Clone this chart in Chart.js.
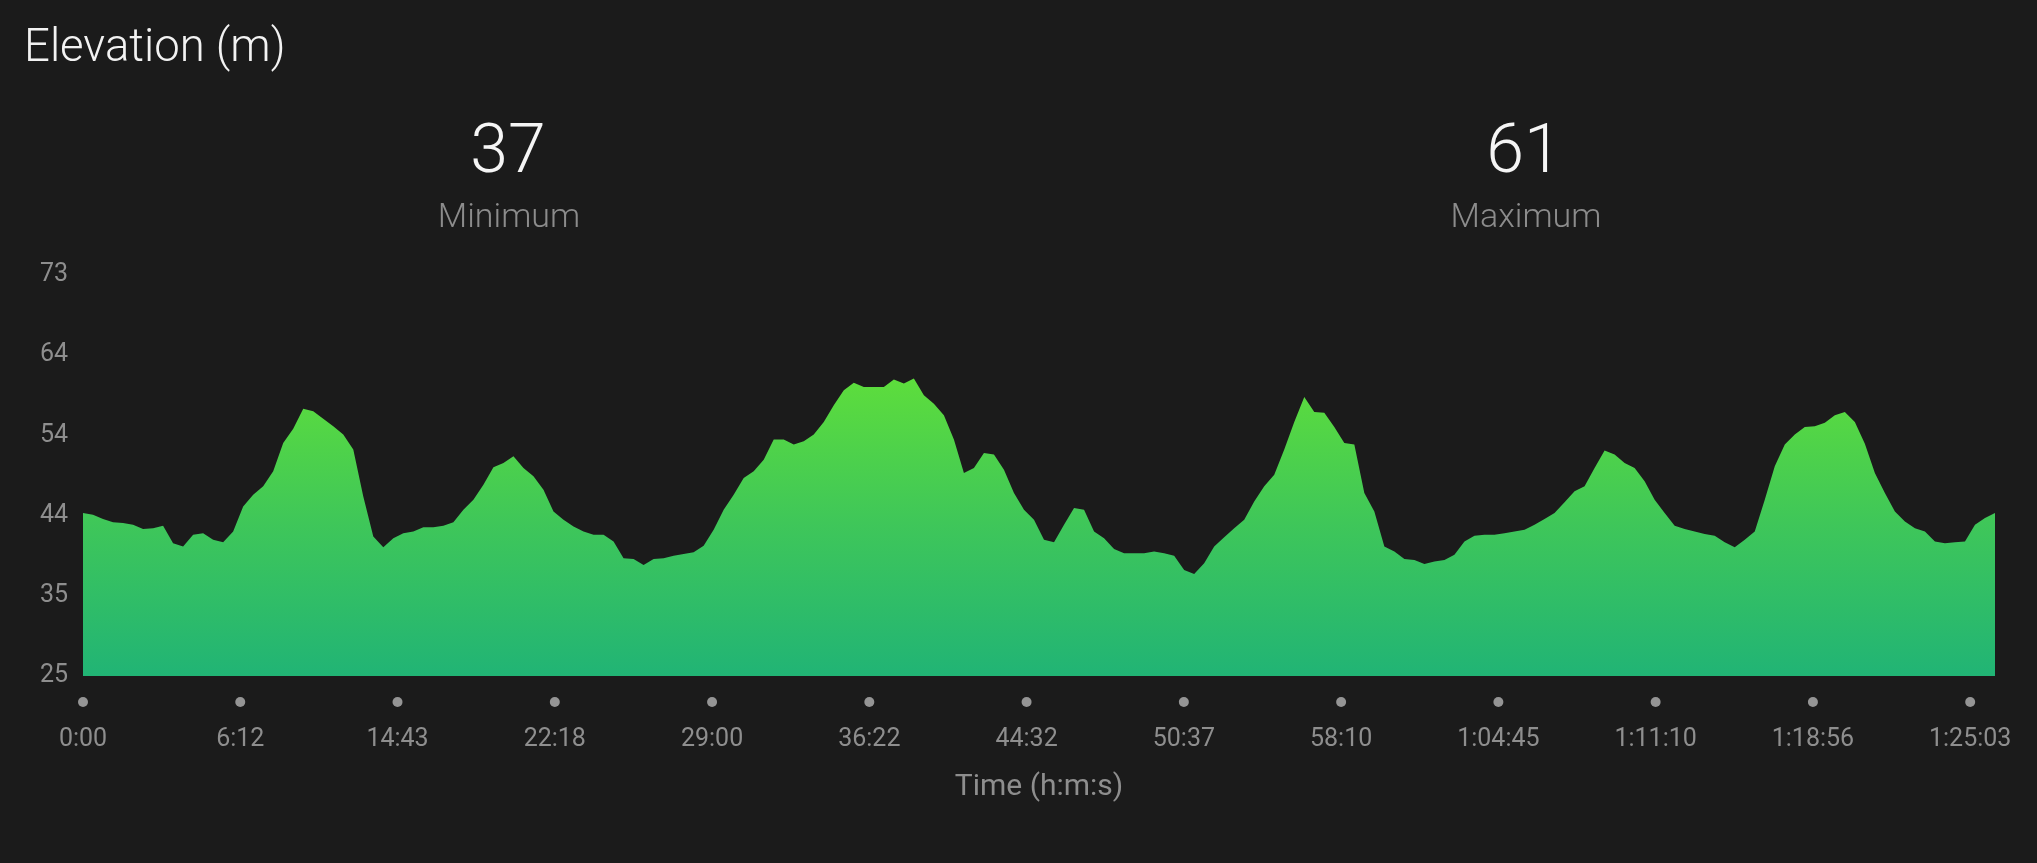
<!DOCTYPE html>
<html><head><meta charset="utf-8">
<script src="https://cdn.jsdelivr.net/npm/chart.js@4.4.1/dist/chart.umd.min.js"></script>
<style>
html,body{margin:0;padding:0;background:#1b1b1b;overflow:hidden;}
#wrap{position:relative;width:2037px;height:863px;background:#1b1b1b;}
canvas{position:absolute;left:0;top:0;}
.t{position:absolute;font-family:Roboto,'Noto Sans',sans-serif;white-space:nowrap;line-height:1;}
.num{width:400px;text-align:center;top:115px;font-size:68px;font-weight:300;color:#f5f5f5;}
.lab{width:400px;text-align:center;top:198px;font-size:34px;font-weight:300;color:#8c8c8c;}
</style></head><body>
<div id="wrap">
<canvas id="c" width="2037" height="863"></canvas>
<div class="t" id="title" style="left:24px;top:23px;font-size:45.5px;font-weight:300;color:#f2f2f2;"></div>
<div class="t num" id="v0" style="left:308px;"></div>
<div class="t lab" id="l0" style="left:309px;"></div>
<div class="t num" id="v1" style="left:1324px;"></div>
<div class="t lab" id="l1" style="left:1326px;"></div>
</div>
<script>
const chartTitle = 'Elevation (m)';
const statValues = [37, 61];
const statLabels = ['Minimum', 'Maximum'];
const xAxisTitle = 'Time (h:m:s)';
const xTickLabels = ['0:00','6:12','14:43','22:18','29:00','36:22','44:32','50:37','58:10','1:04:45','1:11:10','1:18:56','1:25:03'];
const yTickLabels = ['25','35','44','54','64','73'];
const yMin = 25, yMax = 73;
const samplesPerXTick = 15.71;

const elevation = [
44.5,44.3,43.8,43.4,43.3,43.1,42.6,42.7,43.0,40.9,40.5,41.9,42.1,41.3,41.0,42.3,45.3,46.7,47.7,49.5,52.9,54.6,57.0,56.7,55.8,54.9,53.9,52.1,46.5,41.7,40.4,41.5,42.1,
42.3,42.8,42.8,43.0,43.4,44.9,46.1,47.9,50.0,50.5,51.3,49.9,48.9,47.3,44.7,43.7,42.9,42.3,41.9,41.9,41.1,39.1,39.0,38.3,39.0,39.1,39.4,39.6,39.8,40.6,42.5,44.9,
46.7,48.7,49.5,50.9,53.3,53.3,52.7,53.1,53.9,55.4,57.4,59.2,60.1,59.6,59.6,59.6,60.5,60.0,60.6,58.6,57.6,56.2,53.3,49.3,49.9,51.7,51.5,49.7,46.9,44.9,43.7,41.3,
41.0,43.1,45.1,44.9,42.3,41.5,40.2,39.7,39.7,39.7,39.9,39.7,39.4,37.7,37.2,38.5,40.5,41.6,42.7,43.7,45.9,47.7,49.1,52.1,55.4,58.4,56.6,56.5,54.8,52.9,52.7,46.9,
44.7,40.5,39.9,39.0,38.9,38.4,38.7,38.9,39.5,41.1,41.8,41.9,41.9,42.1,42.3,42.5,43.1,43.8,44.5,45.8,47.1,47.7,49.9,52.0,51.5,50.5,49.9,48.3,46.1,44.5,43.0,42.6,
42.3,42.0,41.8,41.0,40.4,41.3,42.3,46.1,50.1,52.7,53.9,54.8,54.9,55.3,56.2,56.6,55.4,52.8,49.3,46.9,44.7,43.5,42.7,42.3,41.1,40.9,41.0,41.1,43.1,43.9,44.5
];

document.getElementById('title').textContent = chartTitle;
document.getElementById('v0').textContent = statValues[0];
document.getElementById('v1').textContent = statValues[1];
document.getElementById('l0').textContent = statLabels[0];
document.getElementById('l1').textContent = statLabels[1];

const tickDots = {
  id: 'tickDots',
  afterDraw(chart) {
    const sx = chart.scales.x, ctx = chart.ctx;
    ctx.save();
    ctx.fillStyle = '#959595';
    sx.ticks.forEach((t, i) => {
      const px = sx.getPixelForTick(i);
      ctx.beginPath();
      ctx.arc(px, chart.chartArea.bottom + 26, 5, 0, Math.PI * 2);
      ctx.fill();
    });
    ctx.restore();
  }
};

const ctx = document.getElementById('c').getContext('2d');
new Chart(ctx, {
  type: 'line',
  data: {
    datasets: [{
      data: elevation.map((v, i) => ({x: i, y: v})),
      fill: 'start',
      borderWidth: 0,
      pointRadius: 0,
      tension: 0,
      backgroundColor: (c) => {
        const ch = c.chart, area = ch.chartArea;
        if (!area) return '#3fc45a';
        const top = ch.scales.y.getPixelForValue(Math.max(...elevation));
        const g = ch.ctx.createLinearGradient(0, top, 0, area.bottom);
        g.addColorStop(0, '#5ddd3c');
        g.addColorStop(0.5, '#3ec65a');
        g.addColorStop(1, '#21b475');
        return g;
      }
    }]
  },
  options: {
    responsive: false,
    animation: false,
    events: [],
    layout: { padding: { top: 275, right: 42, left: 0, bottom: 0 } },
    plugins: { legend: { display: false }, tooltip: { enabled: false }, title: { display: false } },
    scales: {
      x: {
        type: 'linear',
        min: 0,
        max: elevation.length - 1,
        grid: { display: false, drawTicks: false },
        border: { display: false },
        afterBuildTicks: (s) => { s.ticks = xTickLabels.map((l, k) => ({ value: k * samplesPerXTick })); },
        afterFit: (s) => { s.height = 187; s.paddingLeft = 0; s.paddingRight = 0; },
        ticks: {
          autoSkip: false, maxRotation: 0, minRotation: 0,
          padding: 49,
          color: '#8e8e8e',
          font: { family: 'Roboto', size: 25, weight: 400 },
          callback: (v, i) => xTickLabels[i]
        },
        title: {
          display: true, text: xAxisTitle, color: '#8e8e8e',
          font: { family: 'Roboto', size: 30, weight: 400 },
          padding: { top: 0, bottom: 58 }
        }
      },
      y: {
        min: yMin, max: yMax,
        grid: { display: false, drawTicks: false },
        border: { display: false },
        afterBuildTicks: (s) => { s.ticks = yTickLabels.map((l, k) => ({ value: yMin + k * (yMax - yMin) / (yTickLabels.length - 1) })); },
        afterFit: (s) => { s.width = 83; },
        ticks: {
          padding: 15,
          color: '#8e8e8e',
          font: { family: 'Roboto', size: 25, weight: 400 },
          callback: (v, i) => yTickLabels[i]
        }
      }
    }
  },
  plugins: [tickDots]
});
</script>
</body></html>
